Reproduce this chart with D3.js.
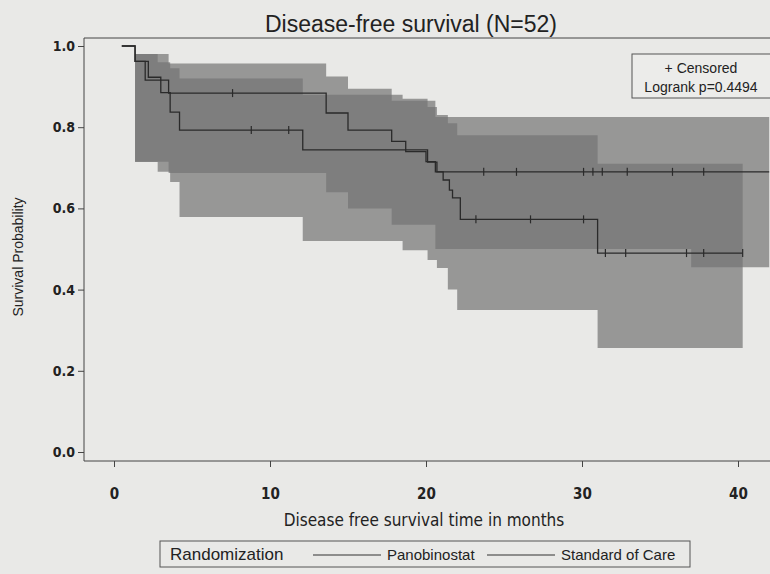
<!DOCTYPE html>
<html lang="en">
<head>
<meta charset="utf-8">
<title>Disease-free survival (N=52)</title>
<script src="https://cdn.jsdelivr.net/npm/d3@7"></script>
<style>
    body { margin: 0; background: #e9e9e7; }
    svg { display: block; }
    text { fill: #222; }
    .title { font-family: "Liberation Sans", Arial, sans-serif; font-size: 23px; }
    .tick text { font-family: "Liberation Sans Narrow", "DejaVu Sans Condensed", sans-serif; }
    .y-axis .tick text { font-size: 14px; font-weight: bold; }
    .x-axis .tick text { font-size: 15px; font-weight: bold; }
    .axis-label { font-family: "Liberation Sans Narrow", "DejaVu Sans Condensed", sans-serif; font-size: 17px; }
    .ylab { font-family: "Liberation Sans Narrow", sans-serif; font-size: 14px; }
    .legend text, .inset text { font-family: "Liberation Sans Narrow", sans-serif; }
</style>
</head>
<body>
<script>
    // upper curve (ends near 0.69)
    const panoTime = [0.5, 1.35, 2.0, 3.5, 13.6, 15.0, 17.8, 18.7, 20.0, 20.6, 42.0];
    const panoSurv = [1.0, 0.962, 0.916, 0.884, 0.835, 0.793, 0.765, 0.74, 0.715, 0.69, 0.69];
    const panoCensor = [7.6, 23.7, 25.8, 30.1, 30.7, 31.3, 32.9, 35.8, 37.8];
    const panoBandTime = [1.35, 3.5, 13.6, 15.0, 17.8, 20.6, 37.0, 42.0];
    const panoBandHi = [0.98, 0.957, 0.925, 0.895, 0.865, 0.825, 0.825, 0.825];
    const panoBandLo = [0.715, 0.687, 0.64, 0.60, 0.56, 0.50, 0.455, 0.455];

    // lower curve (ends near 0.49)
    const socTime = [0.5, 1.35, 2.2, 3.0, 3.6, 4.2, 12.1, 20.1, 20.7, 21.1, 21.5, 21.7, 22.2, 31.0, 40.3];
    const socSurv = [1.0, 0.962, 0.923, 0.885, 0.837, 0.793, 0.744, 0.714, 0.69, 0.67, 0.645, 0.626, 0.573, 0.49, 0.49];
    const socCensor = [8.8, 11.2, 23.2, 26.7, 30.1, 31.5, 32.8, 36.7, 37.8, 40.3];
    const socBandTime = [1.35, 2.8, 3.6, 4.2, 12.1, 18.5, 20.1, 20.7, 21.4, 22.0, 31.0, 40.3];
    const socBandHi = [0.98, 0.96, 0.945, 0.92, 0.88, 0.87, 0.85, 0.83, 0.81, 0.78, 0.71, 0.71];
    const socBandLo = [0.714, 0.69, 0.665, 0.579, 0.52, 0.497, 0.473, 0.453, 0.40, 0.35, 0.256, 0.256];

    const xTicks = [0, 10, 20, 30, 40];
    const yTicks = [0, 0.2, 0.4, 0.6, 0.8, 1.0];
    const groups = ["Panobinostat", "Standard of Care"];

    const W = 770, H = 574;
    const frame = {left: 84, top: 38, right: 775, bottom: 461};

    const x = d3.scaleLinear().domain([0, 40]).range([114, 738]);
    const y = d3.scaleLinear().domain([0, 1]).range([452, 46]);

    const svg = d3.select("body").append("svg")
        .attr("width", W)
        .attr("height", H);

    // title
    svg.append("text")
        .attr("class", "title")
        .attr("x", 411).attr("y", 32)
        .attr("text-anchor", "middle")
        .text("Disease-free survival (N=52)");

    // confidence bands
    const band = d3.area()
        .x(d => x(d.t))
        .y0(d => y(d.lo))
        .y1(d => y(d.hi))
        .curve(d3.curveStepAfter);

    const bands = [
        panoBandTime.map((t, i) => ({t, lo: panoBandLo[i], hi: panoBandHi[i]})),
        socBandTime.map((t, i) => ({t, lo: socBandLo[i], hi: socBandHi[i]}))
    ];

    svg.append("g").selectAll("path")
        .data(bands)
        .join("path")
        .attr("d", band)
        .attr("fill", "#737373")
        .attr("fill-opacity", 0.7);

    // survival step lines
    const line = d3.line()
        .x(d => x(d.t))
        .y(d => y(d.s))
        .curve(d3.curveStepAfter);

    const curves = [
        {time: panoTime, surv: panoSurv, censor: panoCensor},
        {time: socTime, surv: socSurv, censor: socCensor}
    ];

    curves.forEach(c => {
        const pts = c.time.map((t, i) => ({t, s: c.surv[i]}));
        svg.append("path")
            .datum(pts)
            .attr("d", line)
            .attr("fill", "none")
            .attr("stroke", "#2a2a2a")
            .attr("stroke-width", 1.3);

        // censored marks: value of step at that time
        const bis = d3.bisector(d => d).right;
        svg.append("g").selectAll("line")
            .data(c.censor)
            .join("line")
            .attr("x1", d => x(d)).attr("x2", d => x(d))
            .attr("y1", d => y(c.surv[Math.max(0, bis(c.time, d) - 1)]) - 4)
            .attr("y2", d => y(c.surv[Math.max(0, bis(c.time, d) - 1)]) + 4)
            .attr("stroke", "#2a2a2a")
            .attr("stroke-width", 1.2);
    });

    // frame top line
    svg.append("line")
        .attr("x1", frame.left).attr("x2", frame.right)
        .attr("y1", frame.top).attr("y2", frame.top)
        .attr("stroke", "#444").attr("stroke-width", 1);

    // axes
    const yAxis = svg.append("g")
        .attr("class", "y-axis")
        .attr("transform", `translate(${frame.left},0)`)
        .call(d3.axisLeft(y).tickValues(yTicks).tickFormat(d3.format(".1f")).tickSize(6).tickSizeOuter(0));
    yAxis.select(".domain").attr("d", `M0,${frame.top}V${frame.bottom}`);

    const xAxis = svg.append("g")
        .attr("class", "x-axis")
        .attr("transform", `translate(0,${frame.bottom})`)
        .call(d3.axisBottom(x).tickValues(xTicks).tickSize(6).tickSizeOuter(0));
    xAxis.select(".domain").attr("d", `M${frame.left},0H${frame.right}`);
    xAxis.selectAll(".tick text").attr("dy", "1.9em");

    svg.selectAll(".domain, .tick line").attr("stroke", "#444");

    svg.append("text")
        .attr("class", "axis-label")
        .attr("x", 424).attr("y", 526)
        .attr("text-anchor", "middle")
        .text("Disease free survival time in months");

    svg.append("text")
        .attr("class", "ylab")
        .attr("transform", "translate(23,257) rotate(-90)")
        .attr("text-anchor", "middle")
        .text("Survival Probability");

    // inset box
    const inset = svg.append("g").attr("class", "inset");
    inset.append("rect")
        .attr("x", 632).attr("y", 54).attr("width", 150).attr("height", 44)
        .attr("fill", "#ececea").attr("stroke", "#555").attr("stroke-width", 1);
    inset.append("text").attr("x", 701).attr("y", 73).attr("text-anchor", "middle")
        .attr("font-size", 14).text("+ Censored");
    inset.append("text").attr("x", 701).attr("y", 92).attr("text-anchor", "middle")
        .attr("font-size", 14).text("Logrank p=0.4494");

    // bottom legend
    const legend = svg.append("g").attr("class", "legend");
    legend.append("rect")
        .attr("x", 160).attr("y", 541).attr("width", 530).attr("height", 26)
        .attr("fill", "none").attr("stroke", "#555").attr("stroke-width", 1);
    legend.append("text").attr("x", 170).attr("y", 560).attr("font-size", 17).text("Randomization");
    const itemX = [313, 487];
    groups.forEach((g, i) => {
        legend.append("line")
            .attr("x1", itemX[i]).attr("x2", itemX[i] + 68)
            .attr("y1", 555).attr("y2", 555)
            .attr("stroke", "#333").attr("stroke-width", 1.2);
        legend.append("text")
            .attr("x", itemX[i] + 74).attr("y", 560)
            .attr("font-size", 15)
            .text(g);
    });
</script>
</body>
</html>
